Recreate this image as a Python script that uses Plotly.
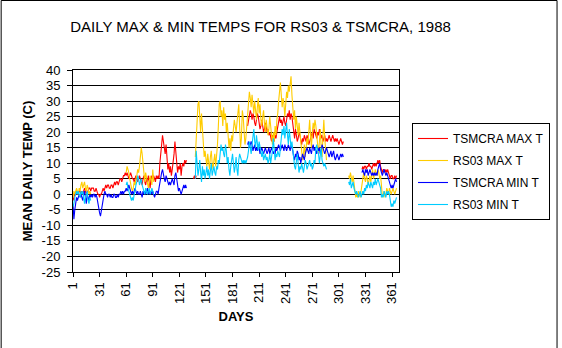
import plotly.graph_objects as go

# ---------------- data ----------------
days = list(range(1, 367))
x_tick_days = [1, 31, 61, 91, 121, 151, 181, 211, 241, 271, 301, 331, 361]
y_tick_vals = [-25, -20, -15, -10, -5, 0, 5, 10, 15, 20, 25, 30, 35, 40]
y_tick_text = ["-25", "-20", "-15", "-10", "-5", "0", "5", "10", "15", "20", "25", "30", "35", "40"]

series_names = ["TSMCRA MAX T", "RS03 MAX T", "TSMCRA MIN T", "RS03 MIN T"]
series_colors = ["#FF0000", "#FFCC00", "#0000FF", "#00CCFF"]

# TSMCRA MAX T : (start day, values)
tsmcra_max_a_start = 1
tsmcra_max_a = [-2, -1, 0, 1, 0, 1, 0, 1, 1, 0,
                1, 0, 1, 2, 1, 0, 1, 1, 2, 2,
                1, 2, 2, 2, 1, 1, 2, 1, 0, 0,
                -1, 0, 0, 1, 2, 1, 2, 3, 2, 3,
                3, 2, 2, 3, 3, 2, 3, 4, 3, 4,
                4, 3, 4, 5, 5, 4, 5, 6, 6, 7,
                6, 7, 6, 5, 6, 7, 6, 5, 5, 4,
                5, 6, 5, 4, 5, 6, 5, 4, 3, 5,
                6, 4, 3, 5, 4, 6, 3, 2, 5, 6,
                5, 6, 5, 4, 6, 5, 6, 5, 10, 14,
                18, 19, 17, 15, 13, 16, 12, 8, 10, 7,
                9, 6, 8, 10, 13, 17, 14, 10, 7, 9,
                8, 10, 6, 9, 10, 9, 11, 10, 11]
tsmcra_max_b_start = 137
tsmcra_max_b = [5, 6, 5, 6]
tsmcra_max_c_start = 198
tsmcra_max_c = [22, 24, 25, 27, 26, 24, 26, 25, 23, 22,
                24, 26, 25, 23, 21, 22, 24, 22, 20, 21,
                23, 22, 20, 21, 19, 20, 18, 17, 19, 18,
                17, 19, 18, 20, 22, 24, 25, 23, 24, 22,
                24, 25, 23, 22, 24, 26, 25, 27, 24, 26,
                25, 22, 20, 18, 21, 19, 17, 18, 20, 19,
                17, 16, 18, 17, 19, 18, 17, 19, 18, 16,
                17, 18, 19, 20, 18, 21, 20, 19, 18, 20,
                19, 21, 20, 18, 19, 17, 18, 19, 17, 18,
                17, 18, 19, 18, 17, 18, 19, 18, 17, 18,
                17, 18, 17, 16, 17, 18, 17, 16, 17]
tsmcra_max_d_start = 327
tsmcra_max_d = [8, 9, 8, 9, 9, 8, 9, 9, 10, 9,
                9, 8, 9, 10, 9, 10, 9, 10, 11, 10,
                11, 9, 8, 7, 8, 8, 7, 8, 7, 8,
                7, 6, 5, 6, 6, 5, 5, 6, 5, 6]

# RS03 MAX T
rs03_max_a_start = 1
rs03_max_a = [-1, 1, 0, 1, 2, 1, 0, 2, 1, 3,
              4, 2, 3, 4, 2, 1, 3, 2, 0, 1, 0]
rs03_max_b_start = 61
rs03_max_b = [7, 9, 8, 7, 5, 3, 2, 1, 2, 4,
              3, 5, 6, 8, 7, 9, 12, 15, 13, 9,
              6, 4, 7, 5, 3, 2, 4, 6, 5, 3, 8, 4]
rs03_max_c_start = 139
rs03_max_c = [12, 18, 25, 29, 30, 24, 20, 26, 22, 15, 12, 14,
              11, 9, 13, 10, 8, 12, 14, 10, 8, 11,
              13, 9, 12, 16, 22, 29, 30, 25,
              27, 22, 28, 24, 26, 20, 23, 17,
              15, 18, 14, 19, 17,
              21, 24, 22, 20, 23,
              26, 29, 22, 15, 18, 27, 25,
              20, 16, 18, 22, 26,
              30, 33, 31, 28, 32, 29, 26,
              30, 27, 24, 28, 31, 26, 29, 24, 22, 25, 27, 23,
              20, 24, 22, 19, 21, 25, 22,
              18, 16, 20, 17, 22, 19, 24,
              26, 30, 34, 36, 32, 28, 31, 29,
              25, 30, 33, 31, 35, 33, 36, 38, 32, 28,
              24, 27, 21, 25, 22, 19, 23, 20, 18,
              14, 11, 13, 16, 12, 15, 18, 16,
              22, 24, 19, 15, 20, 23, 21, 24, 22, 19, 16,
              13, 17, 21, 15, 12, 19, 24, 18, 12, 11]
rs03_max_d_start = 312
rs03_max_d = [6, 5, 7, 5, 4, 6, 3, 1, -1, 0,
              -1, 1, 0, -1, 1, 3, 6, 7, 5, 4,
              6, 5, 3, 5, 6, 4, 7, 8, 5, 6,
              8, 7, 6, 8, 7, 5, 6, 3, -1, 0,
              1, -1, 0, 2, 1, 0, 2, 1, 0, 1,
              2, 1, 0, 1, 2]

# TSMCRA MIN T
tsmcra_min_a_start = 1
tsmcra_min_a = [-3, -8, -5, -3, -1, -2, -1, 0, -1, 0,
                -1, -2, 0, 1, -1, -3, 0, -1, -2, 0,
                -1, 0, -1, 0, 0, -1, 0, -1, -3, -5,
                -6, -7, -5, -3, -1, 0, 1, 0, 0, -1,
                0, 0, -1, 0, -1, -1, 0, 0, -1, -1,
                0, -1, 0, 0, 1, 0, 1, 0, 1, 1,
                2, 1, 2, 3, 2, 1, 0, 1, 0, 1,
                2, 1, 0, 1, 0, 0, 1, 0, -1, 1,
                0, 1, 0, 1, 2, 0, 1, 0, 1, 0,
                1, 0, -1, 0, 1, 1, 0, 2, 4, 5,
                7, 8, 6, 5, 4, 6, 5, 4, 3, 4,
                3, 4, 5, 4, 3, 6, 7, 5, 2, 1,
                2, 1, 0, 1, 2, 3, 2, 3, 2]
tsmcra_min_c_start = 198
tsmcra_min_c = [16, 17, 15, 16, 17, 16, 14, 15, 16, 14,
                15, 14, 16, 15, 13, 14, 15, 14, 13, 14,
                15, 14, 13, 14, 15, 13, 14, 15, 14, 13,
                14, 13, 15, 14, 15, 16, 15, 14, 15, 16,
                15, 14, 16, 15, 14, 15, 16, 15, 14, 16,
                15, 14, 12, 11, 13, 12, 14, 13, 11, 12,
                10, 12, 13, 12, 11, 13, 14, 15, 14, 13,
                15, 14, 13, 15, 16, 14, 15, 14, 13, 15,
                14, 15, 13, 14, 16, 15, 14, 13, 14, 15,
                14, 13, 12, 13, 14, 12, 13, 14, 12, 11,
                12, 13, 12, 11, 12, 13, 12, 13, 12]
tsmcra_min_d_start = 327
tsmcra_min_d = [7, 8, 7, 6, 8, 7, 8, 6, 7, 8,
                7, 6, 7, 6, 7, 6, 7, 6, 8, 9,
                10, 8, 7, 6, 7, 8, 7, 6, 7, 6,
                5, 4, 3, 2, 3, 2, 3, 4, 5, 4]

# RS03 MIN T
rs03_min_a_start = 1
rs03_min_a = [-4, -3, -1, 0, 1, 0, 1, 0, -1, 1,
              0, 1, -1, -3, -1, 0, 1, -2, -3, -1, -2]
rs03_min_b_start = 61
rs03_min_b = [3, 4, 2, 1, 0, -1, -2, -1, -2, 0,
              1, 3, 4, 6, 5, 3, 4, 5, 3, 2,
              1, 0, 2, 1, 0, 1, 2, 0, 1, 2, 1, 0]
rs03_min_c_start = 139
rs03_min_c = [5, 14, 10, 6, 8, 11, 7, 4, 9, 6, 8, 5,
              7, 9, 6, 8, 5, 7, 10, 6, 8, 9,
              7, 6, 9, 8, 11, 10,
              13, 16, 14, 15, 13, 12, 16, 14,
              10, 12, 8, 6, 9, 11, 13, 10, 7, 9, 12, 8, 6, 11,
              13, 12, 11, 10, 11, 10, 11, 10, 11, 12,
              14, 17, 15, 13, 16, 18, 21, 17, 15, 19, 16, 14, 17, 15,
              13, 12, 14, 11, 12, 13, 11, 12, 10, 11, 13, 10, 12, 14, 18,
              12, 11, 13, 12, 14, 13, 12, 15, 18, 21, 19, 22,
              18, 20, 23, 19, 16, 21, 18, 15, 17, 14,
              12, 9, 8, 11, 13, 10, 7, 9, 8,
              10, 8, 7, 9, 11, 10, 8, 9, 10, 11, 9, 10, 8, 9, 11, 10,
              15, 16, 14, 13, 10, 12, 15, 11, 10, 9, 10, 9, 8]
rs03_min_d_start = 312
rs03_min_d = [4, 3, 5, 2, 3, 4, 2, 1, 0, 1,
              0, -1, 0, 1, -1, 0, 1, 0, 2, 1,
              3, 2, 4, 3, 2, 4, 3, 2, 4, 3,
              5, 3, 4, 5, 4, 3, 2, -1, 0, -1,
              1, 0, -1, 1, 0, 1, 0, -2, -4, -3,
              -4, -2, -3, -2, -1]

series_segments = [
    [(tsmcra_max_a_start, tsmcra_max_a), (tsmcra_max_b_start, tsmcra_max_b),
     (tsmcra_max_c_start, tsmcra_max_c), (tsmcra_max_d_start, tsmcra_max_d)],
    [(rs03_max_a_start, rs03_max_a), (rs03_max_b_start, rs03_max_b),
     (rs03_max_c_start, rs03_max_c), (rs03_max_d_start, rs03_max_d)],
    [(tsmcra_min_a_start, tsmcra_min_a), (tsmcra_min_c_start, tsmcra_min_c),
     (tsmcra_min_d_start, tsmcra_min_d)],
    [(rs03_min_a_start, rs03_min_a), (rs03_min_b_start, rs03_min_b),
     (rs03_min_c_start, rs03_min_c), (rs03_min_d_start, rs03_min_d)],
]


def build(segments):
    y = [None] * len(days)
    for start, vals in segments:
        for i, v in enumerate(vals):
            idx = start - 1 + i
            if 0 <= idx < len(days):
                y[idx] = v
    return y


# ---------------- figure ----------------
FONT = "Liberation Sans, Arial, sans-serif"
W, H = 562, 348
ML, MR, MT, MB = 73, 160, 70, 76

fig = go.Figure()
for name, color, segs in zip(series_names, series_colors, series_segments):
    fig.add_trace(go.Scatter(
        x=days, y=build(segs), mode="lines", name=name,
        line=dict(color=color, width=1.1), connectgaps=False,
        legendgroup=name,
    ))

pw = W - ML - MR
ph = H - MT - MB
# outer chart border
fig.add_shape(type="rect", xref="paper", yref="paper",
              x0=(0.5 - ML) / pw, x1=(W - 0.5 - ML) / pw,
              y0=(MB - H + 0.5) / ph, y1=(H - 0.5 - MB) / ph,
              line=dict(color="black", width=1), fillcolor="rgba(0,0,0,0)", layer="below")

fig.update_layout(
    width=W, height=H,
    margin=dict(l=ML, r=MR, t=MT, b=MB, pad=0),
    paper_bgcolor="white", plot_bgcolor="white",
    font=dict(family=FONT, color="black", size=13),
    title=dict(text="DAILY MAX & MIN TEMPS FOR RS03 & TSMCRA, 1988",
               font=dict(family=FONT, size=15, color="black"),
               xref="container", yref="container",
               x=260.5 / W, y=1 - 27 / H, xanchor="center", yanchor="middle"),
    showlegend=True,
    legend=dict(xref="container", yref="container",
                x=412 / W, y=1 - 123 / H, xanchor="left", yanchor="top",
                bordercolor="black", borderwidth=1, bgcolor="white",
                font=dict(family=FONT, size=12, color="black"),
                tracegroupgap=3, itemwidth=30),
    xaxis=dict(range=[1, 368.8], tickmode="array", tickvals=x_tick_days,
               ticktext=[str(d) for d in x_tick_days], tickangle=-90,
               ticks="outside", ticklen=4, tickcolor="black",
               showline=True, linecolor="black", linewidth=1, mirror=True,
               showgrid=False, zeroline=False,
               tickfont=dict(family=FONT, size=13),
               title=dict(text="<b>DAYS</b>", font=dict(family=FONT, size=13), standoff=8)),
    yaxis=dict(range=[-25, 40], tickmode="array", tickvals=y_tick_vals, ticktext=y_tick_text,
               ticks="outside", ticklen=5, tickcolor="black",
               showline=True, linecolor="black", linewidth=1, mirror=True,
               showgrid=True, gridcolor="black", gridwidth=1, zeroline=False,
               tickfont=dict(family=FONT, size=13), ticklabelstandoff=4,
               title=dict(text="<b>MEAN DAILY TEMP (C)</b>", font=dict(family=FONT, size=13), standoff=6)),
)

fig.write_html("out.html")
